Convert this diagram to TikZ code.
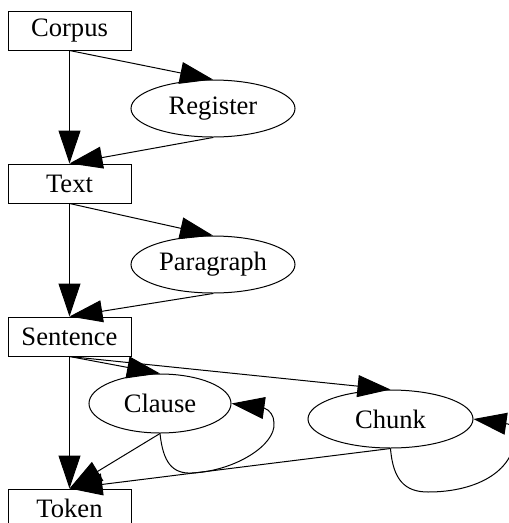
\documentclass[tikz,border=0pt]{standalone}
\usepackage{fontspec}
\setmainfont{Liberation Serif}
\usetikzlibrary{arrows.meta,shapes.geometric}
\tikzset{
  unit/.style={draw, line width=1pt, rectangle, inner sep=0pt,
    minimum width=123pt, minimum height=39pt,
    font=\fontsize{26.6}{30}\selectfont},
  part/.style={draw, line width=1pt, ellipse, inner sep=0pt,
    font=\fontsize{26.6}{30}\selectfont},
  link/.style={line width=1pt, -{Triangle[length=33pt,width=22pt]}},
}
\begin{document}
\begin{tikzpicture}[x=1pt,y=-1pt]
\useasboundingbox (0,0) rectangle (509,523);
\clip (0,0) rectangle (509,523);
% levels of the hierarchy
\node[unit] (corpus) at (69.5,30.5) {Corpus};
\node[unit] (text) at (69.5,183.5) {Text};
\node[unit] (sentence) at (69.5,336.5) {Sentence};
\node[unit] (token) at (69.5,508.5) {Token};
% intermediate units
\node[part, minimum width=164pt, minimum height=57pt] (register) at (213,108.5) {Register};
\node[part, minimum width=164pt, minimum height=57pt] (paragraph) at (213,264.5) {Paragraph};
\node[part, minimum width=142pt, minimum height=59pt] (clause) at (160,403.5) {Clause};
\node[part, minimum width=165pt, minimum height=58pt] (chunk) at (390.5,419) {Chunk};
% containment edges
\draw[link] (corpus.south) -- (text.north);
\draw[link] (corpus.south) -- (register.north);
\draw[link] (register.south) -- (text.north);
\draw[link] (text.south) -- (sentence.north);
\draw[link] (text.south) -- (paragraph.north);
\draw[link] (paragraph.south) -- (sentence.north);
\draw[link] (sentence.south) -- (token.north);
\draw[link] (sentence.south) -- (clause.north);
\draw[link] (sentence.south) -- (chunk.north);
\draw[link] (clause.south) -- (token.north);
\draw[link] (chunk.south) -- (token.north);
% recursive edges
\coordinate (cl1) at (192,473);
\coordinate (cl2) at (274,423);
\coordinate (cl3) at (264,408);
\draw[link] (clause.south) .. controls (163,462) and (172,474) .. (cl1)
  .. controls (235,471) and (276,445) .. (cl2)
  .. controls (274,416) and (270,410) .. (cl3) -- (clause.east);
\coordinate (ch1) at (428,492);
\coordinate (ch2) at (515,432);
\coordinate (ch3) at (508,424);
\draw[link] (chunk.south) .. controls (393,480) and (405,492) .. (ch1)
  .. controls (478,492) and (517,470) .. (ch2)
  .. controls (514,428) and (512,425) .. (ch3) -- (chunk.east);
\end{tikzpicture}
\end{document}
